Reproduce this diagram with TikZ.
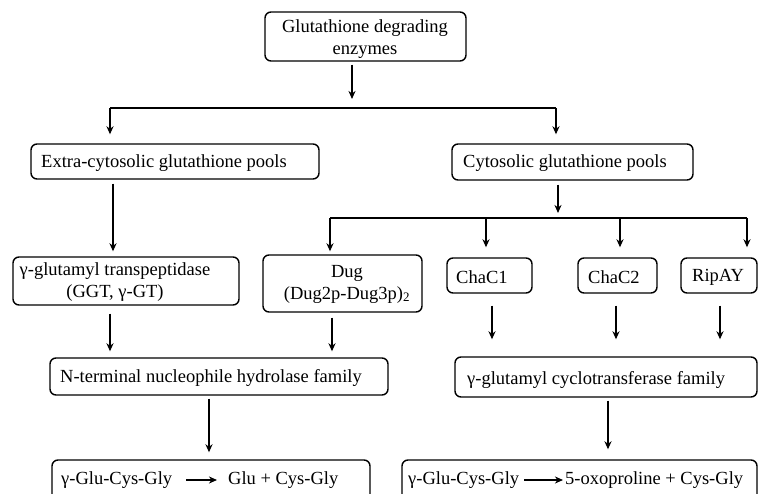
\documentclass[tikz,border=0pt]{standalone}
\usepackage{fontspec}
\setmainfont{Liberation Serif}
\usetikzlibrary{arrows.meta}
\begin{document}
\begin{tikzpicture}[x=1pt,y=-1pt,
  box/.style={draw, line width=1.4pt, rounded corners=6pt, inner sep=0pt},
  txt/.style={inner sep=0pt, font=\fontsize{18.5}{22}\selectfont},
  arr/.style={line width=1.4pt, -{Stealth[length=8pt,width=7pt,inset=2.5pt]}},
  ln/.style={line width=1.4pt}]
\useasboundingbox (0,0) rectangle (758,494);
% boxes
\node[box, minimum width=201pt, minimum height=49pt] (top) at (365.5,36.5) {};
\node[box, minimum width=288pt, minimum height=35pt] (extra) at (175,161.5) {};
\node[box, minimum width=241pt, minimum height=36pt] (cyto) at (572.5,162) {};
\node[box, minimum width=226pt, minimum height=48pt] (ggt) at (126,281) {};
\node[box, minimum width=159pt, minimum height=57pt] (dug) at (342.5,283.5) {};
\node[box, minimum width=85pt, minimum height=35pt] (chac1) at (489.5,275.5) {};
\node[box, minimum width=79pt, minimum height=35pt] (chac2) at (617.5,275.5) {};
\node[box, minimum width=76pt, minimum height=35pt] (ripay) at (719,275.5) {};
\node[box, minimum width=338pt, minimum height=37pt] (nterm) at (219,376.5) {};
\node[box, minimum width=302pt, minimum height=40pt] (cyclo) at (606,377) {};
\node[box, minimum width=318pt, minimum height=40pt] (bl) at (211,480) {};
\node[box, minimum width=355pt, minimum height=40pt] (br) at (579.5,480) {};
% texts
\node[txt, align=center] (toptxt) at (365,39) {Glutathione degrading\\enzymes};
\node[txt, anchor=west] (extratxt) at (41,163) {Extra-cytosolic glutathione pools};
\node[txt, anchor=west] (cytotxt) at (463,163) {Cytosolic glutathione pools};
\node[txt, align=center] (ggttxt) at (115,282) {γ-glutamyl transpeptidase\\(GGT, γ-GT)};
\node[txt, align=center] (dugtxt) at (347,284) {Dug\\(Dug2p-Dug3p)\textsubscript{2}};
\node[txt, anchor=west] (chac1txt) at (456,277) {ChaC1};
\node[txt, anchor=west] (chac2txt) at (588,277) {ChaC2};
\node[txt, anchor=west] (ripaytxt) at (692,277) {RipAY};
\node[txt, anchor=west] (ntermtxt) at (60,378) {N-terminal nucleophile hydrolase family};
\node[txt, anchor=west] (cyclotxt) at (467,380) {γ-glutamyl cyclotransferase family};
\node[txt, anchor=west] (g1) at (61,480) {γ-Glu-Cys-Gly};
\node[txt, anchor=west] (p1) at (228,480) {Glu + Cys-Gly};
\node[txt, anchor=west] (g2) at (408,480) {γ-Glu-Cys-Gly};
\node[txt, anchor=west] (p2) at (565,480) {5-oxoproline + Cys-Gly};
% junction coordinates
\coordinate (sM) at (352,108);
\coordinate (sL) at (110,108);
\coordinate (sR) at (556,108);
\coordinate (c1) at (113,0);
\coordinate (sC) at (558,218);
\coordinate (b1) at (330,218);
\coordinate (b2) at (486,218);
\coordinate (b3) at (620,218);
\coordinate (b4) at (747,218);
\coordinate (d1) at (110,0);
\coordinate (d2) at (332,0);
\coordinate (d3) at (209,0);
\coordinate (e1) at (492,0);
\coordinate (e2) at (616,0);
\coordinate (e3) at (720,0);
\coordinate (e4) at (608,0);
% connectors
\draw[arr, shorten <=3pt, shorten >=9pt] (top.south -| sM) -- (sM);
\draw[ln] (sL) -- (sR);
\draw[arr, shorten >=9pt] (sL) -- (sL |- extra.north);
\draw[arr, shorten >=9pt] (sR) -- (sR |- cyto.north);
\draw[arr, shorten <=4pt, shorten >=5pt] (extra.south -| c1) -- (ggt.north -| c1);
\draw[arr, shorten <=4pt, shorten >=5pt] (cyto.south -| sC) -- (sC);
\draw[ln] (b1) -- (b4);
\draw[arr, shorten >=3pt] (b1) -- (b1 |- dug.north);
\draw[arr, shorten >=10pt] (b2) -- (b2 |- chac1.north);
\draw[arr, shorten >=10pt] (b3) -- (b3 |- chac2.north);
\draw[arr, shorten >=10pt] (b4) -- (b4 |- ripay.north);
\draw[arr, shorten <=8pt, shorten >=6pt] (ggt.south -| d1) -- (nterm.north -| d1);
\draw[arr, shorten <=5pt, shorten >=6pt] (dug.south -| d2) -- (nterm.north -| d2);
\draw[arr, shorten <=3pt, shorten >=7pt] (nterm.south -| d3) -- (bl.north -| d3);
\draw[arr, shorten <=12pt, shorten >=17pt] (chac1.south -| e1) -- (cyclo.north -| e1);
\draw[arr, shorten <=12pt, shorten >=17pt] (chac2.south -| e2) -- (cyclo.north -| e2);
\draw[arr, shorten <=12pt, shorten >=17pt] (ripay.south -| e3) -- (cyclo.north -| e3);
\draw[arr, shorten <=3pt, shorten >=10pt] (cyclo.south -| e4) -- (br.north -| e4);
\draw[arr, shorten <=14pt, shorten >=11pt] (g1.east) -- (p1.west);
\draw[arr, shorten <=5pt, shorten >=2pt] (g2.east) -- (p2.west);
\end{tikzpicture}
\end{document}
